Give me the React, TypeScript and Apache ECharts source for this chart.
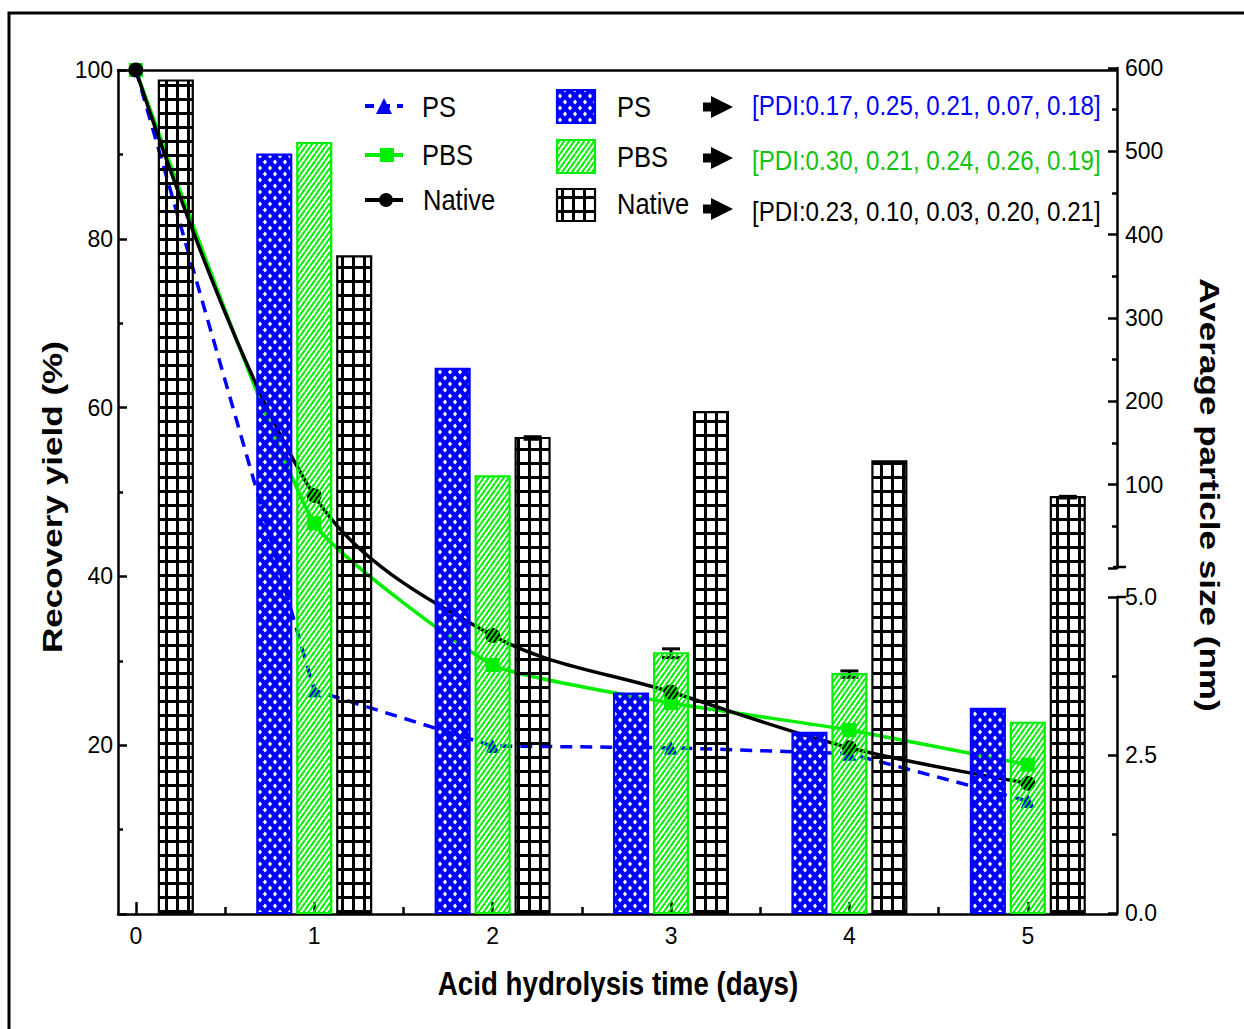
import React, { useEffect, useRef } from 'react';
import * as echarts from 'echarts';

// ---------------- data ----------------
const days = [0, 1, 2, 3, 4, 5];
const xTickValues = [0, 1, 2, 3, 4, 5];
const xMinorTickValues = [0.5, 1.5, 2.5, 3.5, 4.5];

// recovery yield (%) – left axis
const yieldPS = [100, 26.5, 19.9, 19.7, 19.0, 13.4];
const yieldPBS = [100, 46.3, 29.5, 25.0, 21.8, 17.7];
const yieldNative = [100, 49.6, 33.0, 26.3, 19.7, 15.5];

// average particle size (nm) – right broken axis
const sizePS = [null, 496, 239, 3.47, 2.85, 3.23];
const sizePBS = [null, 510, 110, 4.11, 3.78, 3.01];
const sizeNative = [585, 374, 156, 187, 128, 85];
const errPS = [0, 0, 0, 0, 0, 0];
const errPBS = [0, 0, 0, 0.07, 0.05, 0];
const errNative = [0, 0, 1.5, 0, 0, 1];

// PDI values
const pdiPS = [0.17, 0.25, 0.21, 0.07, 0.18];
const pdiPBS = [0.3, 0.21, 0.24, 0.26, 0.19];
const pdiNative = [0.23, 0.1, 0.03, 0.2, 0.21];

const LOWER_MAX = 5; // lower segment of the broken axis: 0..5 nm
const UPPER_MAX = 600; // upper segment: 0..600 nm (shown from 100)

const BLUE = '#0000ff';
const GREEN = '#00ee00';
const GREEN_TEXT = '#12c412';
const BLACK = '#000000';
const SANS = "'Liberation Sans', Arial, sans-serif";

function pdiText(a: number[]) {
  return '[PDI:' + a.map((v) => v.toFixed(2)).join(', ') + ']';
}

function makeCanvas(w: number, h: number) {
  const c = document.createElement('canvas');
  c.width = w;
  c.height = h;
  return c;
}

function patternPS() {
  const w = 10, h = 12;
  const c = makeCanvas(w, h);
  const ctx = c.getContext('2d')!;
  ctx.fillStyle = BLUE;
  ctx.fillRect(0, 0, w, h);
  ctx.globalCompositeOperation = 'destination-out';
  const hole = (cx: number, cy: number) => {
    ctx.beginPath();
    ctx.moveTo(cx - 2.1, cy);
    ctx.lineTo(cx, cy - 2.4);
    ctx.lineTo(cx + 2.1, cy);
    ctx.lineTo(cx, cy + 2.4);
    ctx.closePath();
    ctx.fill();
  };
  hole(5, 6);
  hole(0, 0);
  hole(w, 0);
  hole(0, h);
  hole(w, h);
  return { image: c, repeat: 'repeat', imageWidth: w, imageHeight: h };
}

function patternPBS() {
  const w = 5, h = 7;
  const c = makeCanvas(w, h);
  const ctx = c.getContext('2d')!;
  ctx.strokeStyle = GREEN;
  ctx.lineWidth = 2.1;
  for (const dx of [-w, 0, w]) {
    ctx.beginPath();
    ctx.moveTo(dx, h);
    ctx.lineTo(dx + w, 0);
    ctx.stroke();
  }
  return { image: c, repeat: 'repeat', imageWidth: w, imageHeight: h };
}

function patternNative() {
  const w = 11, h = 14;
  const c = makeCanvas(w, h);
  const ctx = c.getContext('2d')!;
  ctx.fillStyle = BLACK;
  ctx.fillRect(0, 0, w, 3);
  ctx.fillRect(0, 0, 3, h);
  return { image: c, repeat: 'repeat', imageWidth: w, imageHeight: h };
}

export default function App() {
  const ref = useRef<HTMLDivElement>(null);

  useEffect(() => {
    if (!ref.current) return;
    const chart = echarts.init(ref.current, undefined, { renderer: 'svg' });

    const pats = { PS: patternPS(), PBS: patternPBS(), Native: patternNative() };

    const sizeToPixel = (v: number) =>
      chart.convertToPixel({ yAxisIndex: v > LOWER_MAX ? 1 : 2 } as any, v) as number;

    const BAR_W = 0.19; // in days
    const BAR_OFF = 0.224; // in days

    const barSeries = (name: string, vals: (number | null)[], off: number, fill: any, stroke: string) => ({
      type: 'custom',
      name,
      xAxisIndex: 0,
      yAxisIndex: 0,
      z: 4,
      silent: true,
      data: days.map((d, i) => [d, vals[i]]).filter((p) => p[1] != null),
      renderItem: (params: any, api: any) => {
        const d = api.value(0);
        const v = api.value(1);
        const xc = api.coord([d + off, 0])[0];
        const w = api.size([BAR_W, 0])[0];
        const yTop = sizeToPixel(v);
        const yBase = sizeToPixel(0);
        return {
          type: 'rect',
          shape: { x: xc - w / 2, y: yTop, width: w, height: yBase - yTop },
          style: { fill, stroke, lineWidth: 2.2 },
        };
      },
    });

    const errSeries = (name: string, vals: (number | null)[], errs: number[], off: number) => ({
      type: 'custom',
      name: name + ' err',
      xAxisIndex: 0,
      yAxisIndex: 0,
      z: 3,
      silent: true,
      data: days.map((d, i) => [d, vals[i], errs[i]]).filter((p) => p[1] != null && (p[2] as number) > 0),
      renderItem: (params: any, api: any) => {
        const d = api.value(0);
        const v = api.value(1);
        const e = api.value(2);
        const xc = api.coord([d + off, 0])[0];
        const yHi = sizeToPixel(v + e);
        const yLo = sizeToPixel(v - e);
        const cw = 9;
        const ls = { stroke: BLACK, lineWidth: 3 };
        return {
          type: 'group',
          children: [
            { type: 'line', shape: { x1: xc, y1: yHi, x2: xc, y2: yLo }, style: ls },
            { type: 'line', shape: { x1: xc - cw, y1: yHi, x2: xc + cw, y2: yHi }, style: ls },
            { type: 'line', shape: { x1: xc - cw, y1: yLo, x2: xc + cw, y2: yLo }, style: ls },
          ],
        };
      },
    });

    const axisLine = { show: true, onZero: false, lineStyle: { color: BLACK, width: 2.5 } };
    const tickStyle = { color: BLACK, width: 2.5 };
    const labelStyle = { fontFamily: SANS, fontSize: 23, color: BLACK };

    const tx = (text: string, x: number, y: number, size: number, color = BLACK, sx = 0.88) => ({
      type: 'text',
      x,
      y,
      scaleX: sx,
      silent: true,
      style: {
        text,
        fontFamily: SANS,
        fontSize: size,
        fill: color,
        align: 'left',
        verticalAlign: 'middle',
      },
    });

    const arrow = (cy: number) => ({
      type: 'polygon',
      silent: true,
      shape: {
        points: [
          [703, cy - 4.5],
          [711, cy - 4.5],
          [711, cy - 11],
          [733, cy],
          [711, cy + 11],
          [711, cy + 4.5],
          [703, cy + 4.5],
        ],
      },
      style: { fill: BLACK },
    });

    const graphic: any[] = [
      // outer frame
      {
        type: 'rect',
        silent: true,
        z: -10,
        shape: { x: 9, y: 13, width: 1400, height: 1200 },
        style: { fill: 'transparent', stroke: BLACK, lineWidth: 3 },
      },
      // line legend
      { type: 'line', silent: true, shape: { x1: 365, y1: 106, x2: 403, y2: 106 }, style: { stroke: BLUE, lineWidth: 4, lineDash: [9, 7] } },
      { type: 'polygon', silent: true, shape: { points: [[384, 98], [392, 114], [376, 114]] }, style: { fill: BLUE } },
      tx('PS', 422, 107, 29),
      { type: 'line', silent: true, shape: { x1: 365, y1: 155, x2: 403, y2: 155 }, style: { stroke: GREEN, lineWidth: 4 } },
      { type: 'rect', silent: true, shape: { x: 380, y: 148, width: 14, height: 14 }, style: { fill: GREEN } },
      tx('PBS', 422, 155, 29),
      { type: 'line', silent: true, shape: { x1: 365, y1: 200, x2: 403, y2: 200 }, style: { stroke: BLACK, lineWidth: 4 } },
      { type: 'circle', silent: true, shape: { cx: 386, cy: 200, r: 7 }, style: { fill: BLACK } },
      tx('Native', 423, 200, 29),
      // bar legend
      { type: 'rect', silent: true, shape: { x: 557, y: 90, width: 38, height: 33 }, style: { fill: pats.PS, stroke: BLUE, lineWidth: 2.2 } },
      tx('PS', 617, 107, 29),
      { type: 'rect', silent: true, shape: { x: 557, y: 140, width: 38, height: 33 }, style: { fill: pats.PBS, stroke: GREEN, lineWidth: 2.2 } },
      tx('PBS', 617, 157, 29),
      { type: 'rect', silent: true, shape: { x: 557, y: 189, width: 38, height: 32 }, style: { fill: pats.Native, stroke: BLACK, lineWidth: 2.2 } },
      tx('Native', 617, 204, 29),
      // arrows + PDI
      arrow(107),
      arrow(158),
      arrow(209),
      tx(pdiText(pdiPS), 752, 105, 28, BLUE, 0.862),
      tx(pdiText(pdiPBS), 752, 160, 28, GREEN_TEXT, 0.862),
      tx(pdiText(pdiNative), 752, 211, 28, BLACK, 0.862),
      // broken-axis caps
      { type: 'line', silent: true, shape: { x1: 1113, y1: 567, x2: 1126, y2: 567 }, style: { stroke: BLACK, lineWidth: 2.5 } },
      { type: 'line', silent: true, shape: { x1: 1117, y1: 597, x2: 1126, y2: 597 }, style: { stroke: BLACK, lineWidth: 2.5 } },
      // axis titles
      {
        type: 'text',
        silent: true,
        x: 618,
        y: 983,
        scaleX: 0.84,
        style: { text: 'Acid hydrolysis time (days)', fontFamily: SANS, fontWeight: 'bold', fontSize: 33, fill: BLACK, align: 'center', verticalAlign: 'middle' },
      },
      {
        type: 'text',
        silent: true,
        x: 53,
        y: 497,
        rotation: Math.PI / 2,
        scaleX: 1.3,
        style: { text: 'Recovery yield (%)', fontFamily: SANS, fontWeight: 'bold', fontSize: 27, fill: BLACK, align: 'center', verticalAlign: 'middle' },
      },
      {
        type: 'text',
        silent: true,
        x: 1209,
        y: 495,
        rotation: -Math.PI / 2,
        scaleX: 1.3,
        style: { text: 'Average particle size (nm)', fontFamily: SANS, fontWeight: 'bold', fontSize: 27, fill: BLACK, align: 'center', verticalAlign: 'middle' },
      },
    ];

    const option: any = {
      animation: false,
      backgroundColor: '#ffffff',
      grid: [
        { left: 118, right: 127, top: 70, bottom: 115 },
        { left: 1100, right: 127, top: 68, bottom: 461 },
        { left: 1100, right: 127, top: 597, bottom: 116 },
        { left: 118, right: 127, top: 70, bottom: 115 },
      ],
      xAxis: [
        {
          gridIndex: 0,
          type: 'value',
          min: -0.1,
          max: 5.5,
          axisLine,
          axisTick: { show: true, inside: true, length: 12, customValues: xTickValues, lineStyle: tickStyle },
          axisLabel: { ...labelStyle, customValues: xTickValues, margin: 10 },
          splitLine: { show: false },
        },
        { gridIndex: 1, type: 'value', show: false, splitLine: { show: false } },
        { gridIndex: 2, type: 'value', show: false, splitLine: { show: false } },
        {
          gridIndex: 3,
          type: 'value',
          min: -0.1,
          max: 5.5,
          axisLine: { show: false, onZero: false },
          axisTick: { show: true, inside: true, length: 7, customValues: xMinorTickValues, lineStyle: tickStyle },
          axisLabel: { show: false },
          splitLine: { show: false },
        },
        {
          gridIndex: 3,
          type: 'value',
          position: 'top',
          min: -0.1,
          max: 5.5,
          axisLine,
          axisTick: { show: false },
          axisLabel: { show: false },
          splitLine: { show: false },
        },
      ],
      yAxis: [
        {
          gridIndex: 0,
          type: 'value',
          min: 0,
          max: 100,
          interval: 20,
          axisLine,
          axisTick: { show: true, inside: true, length: 9, lineStyle: tickStyle },
          minorTick: { show: true, splitNumber: 2, length: 5, lineStyle: tickStyle },
          axisLabel: { ...labelStyle, margin: 5, formatter: (v: number) => (v === 0 ? '' : String(v)) },
          splitLine: { show: false },
        },
        {
          gridIndex: 1,
          type: 'value',
          position: 'right',
          min: 0,
          max: UPPER_MAX,
          interval: 100,
          axisLine,
          axisTick: { show: true, inside: true, length: 9, lineStyle: tickStyle },
          minorTick: { show: true, splitNumber: 2, length: 5, lineStyle: tickStyle },
          axisLabel: { ...labelStyle, margin: 8, formatter: (v: number) => (v === 0 ? '' : String(v)) },
          splitLine: { show: false },
        },
        {
          gridIndex: 2,
          type: 'value',
          position: 'right',
          min: 0,
          max: LOWER_MAX,
          interval: 2.5,
          axisLine,
          axisTick: { show: true, inside: true, length: 9, lineStyle: tickStyle },
          minorTick: { show: true, splitNumber: 2, length: 5, lineStyle: tickStyle },
          axisLabel: { ...labelStyle, margin: 8, formatter: (v: number) => v.toFixed(1) },
          splitLine: { show: false },
        },
        { gridIndex: 3, type: 'value', show: false, min: 0, max: 100, axisLine: { onZero: false }, splitLine: { show: false } },
      ],
      series: [
        {
          type: 'line',
          name: 'PS yield',
          xAxisIndex: 0,
          yAxisIndex: 0,
          z: 2,
          data: days.map((d, i) => [d, yieldPS[i]]),
          symbol: 'triangle',
          symbolSize: 14,
          lineStyle: { color: BLUE, width: 3.5, type: [12, 8] },
          itemStyle: { color: BLUE },
        },
        {
          type: 'line',
          name: 'PBS yield',
          xAxisIndex: 0,
          yAxisIndex: 0,
          z: 2,
          smooth: 0.15,
          data: days.map((d, i) => [d, yieldPBS[i]]),
          symbol: 'rect',
          symbolSize: 14,
          lineStyle: { color: GREEN, width: 3.5 },
          itemStyle: { color: GREEN },
        },
        {
          type: 'line',
          name: 'Native yield',
          xAxisIndex: 0,
          yAxisIndex: 0,
          z: 2,
          smooth: 0.35,
          data: days.map((d, i) => [d, yieldNative[i]]),
          symbol: 'circle',
          symbolSize: 15,
          lineStyle: { color: BLACK, width: 3.5 },
          itemStyle: { color: BLACK },
        },
        errSeries('PS', sizePS, errPS, -BAR_OFF),
        errSeries('PBS', sizePBS, errPBS, 0),
        errSeries('Native', sizeNative, errNative, BAR_OFF),
        barSeries('PS size', sizePS, -BAR_OFF, pats.PS, BLUE),
        barSeries('PBS size', sizePBS, 0, pats.PBS, GREEN),
        barSeries('Native size', sizeNative, BAR_OFF, pats.Native, BLACK),
      ],
      graphic,
    };

    chart.setOption(option);
    return () => chart.dispose();
  }, []);

  return <div ref={ref} style={{ position: 'absolute', left: 0, top: 0, width: 1244, height: 1029 }} />;
}
